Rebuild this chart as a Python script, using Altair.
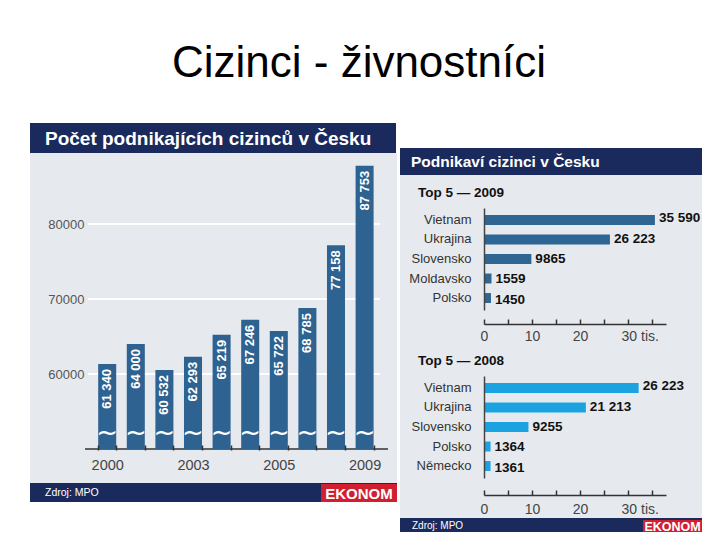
import json
import altair as alt
import pandas as pd

# ---------------- data ----------------
years = ["2000", "2001", "2002", "2003", "2004", "2005", "2006", "2007", "2008", "2009"]
counts = [61340, 64000, 60532, 62293, 65219, 67246, 65722, 68785, 77158, 87753]
year_tick_labels = ["2000", "", "", "2003", "", "", "2005", "", "", "2009"]
left_gridvals = [60000, 70000, 80000]

c2009 = ["Vietnam", "Ukrajina", "Slovensko", "Moldavsko", "Polsko"]
v2009 = [35590, 26223, 9865, 1559, 1450]
l2009 = ["35 590", "26 223", "9865", "1559", "1450"]

c2008 = ["Vietnam", "Ukrajina", "Slovensko", "Polsko", "Německo"]
# bar lengths as drawn in the picture (the Vietnam bar is drawn longer than its label)
v2008 = [32200, 21213, 9255, 1364, 1361]
l2008 = ["26 223", "21 213", "9255", "1364", "1361"]

right_ticks = [0, 5000, 10000, 15000, 20000, 25000, 30000, 35000]
right_labels = [0, 10000, 20000, 30000]

# ---------------- style ----------------
NAVY = "#1b2a5c"
BG = "#e6eaef"
RED = "#d21f30"
BAR_L = "#2e6290"
BAR_R1 = "#2e6592"
BAR_R2 = "#1ba3e1"
NARROW = "Liberation Sans Narrow, Arial Narrow, Liberation Sans, sans-serif"
SANS = "Liberation Sans, Arial, sans-serif"
H, W = 524, 704


def P(v):
    return v - 8


def rect(x1, y1, x2, y2, color):
    return alt.Chart(alt.Data(values=[{}])).mark_rect(color=color).encode(
        x=alt.value(P(x1)), x2=alt.value(P(x2)), y=alt.value(P(y1)), y2=alt.value(P(y2))
    )


def label(text, x, y, **kw):
    return alt.Chart(alt.Data(values=[{"t": text}])).mark_text(**kw).encode(
        x=alt.value(P(x)), y=alt.value(P(y)), text="t:N"
    )


layers = []

# panels
layers += [
    rect(30, 153, 397, 483, BG),
    rect(30, 123, 396, 153, NAVY),
    rect(30, 483, 397, 502, NAVY),
    rect(321, 484, 397, 502, RED),
    rect(400, 175, 702, 518, BG),
    rect(400, 148, 702, 175, NAVY),
    rect(400, 518, 702, 532, NAVY),
    rect(643, 520, 702, 532, RED),
]

# texts
layers += [
    label("Cizinci - živnostníci", 359, 77, font=SANS, fontSize=44, align="center",
          baseline="alphabetic", color="black"),
    label("Počet podnikajících cizinců v Česku", 45, 145, font=NARROW, fontSize=19,
          fontWeight="bold", align="left", baseline="alphabetic", color="white"),
    label("Zdroj: MPO", 45, 493, font=NARROW, fontSize=10.5, align="left",
          baseline="middle", color="white"),
    label("EKONOM", 359, 493.5, font=SANS, fontSize=15, fontWeight="bold", align="center",
          baseline="middle", color="white"),
    label("Podnikaví cizinci v Česku", 411, 162, font=NARROW, fontSize=15.5,
          fontWeight="bold", align="left", baseline="middle", color="white"),
    label("Top 5 — 2009", 418, 193, font=SANS, fontSize=13.5, fontWeight="bold",
          align="left", baseline="middle", color="#111"),
    label("Top 5 — 2008", 418, 361, font=SANS, fontSize=13.5, fontWeight="bold",
          align="left", baseline="middle", color="#111"),
    label("Zdroj: MPO", 412, 525.5, font=NARROW, fontSize=10, align="left",
          baseline="middle", color="white"),
    label("EKONOM", 672.5, 526.5, font=SANS, fontSize=12.5, fontWeight="bold",
          align="center", baseline="middle", color="white"),
]

# ---------------- left chart ----------------
dfL = pd.DataFrame({"year": years, "count": counts,
                    "lbl": [f"{c:,}".replace(",", " ") for c in counts]})
dfG = pd.DataFrame({"g": left_gridvals})
xL = alt.Scale(domain=years, range=[P(92.9), P(378.9)], paddingInner=0.37, paddingOuter=0.185)
yL = alt.Scale(domain=[50000, 90000], range=[P(449), P(149)], nice=False, zero=False)

label_expr_years = f"{json.dumps(year_tick_labels)}[indexof({json.dumps(years)}, datum.value)]"

grid = alt.Chart(dfG).mark_rule(color="white", strokeWidth=2).encode(
    y=alt.Y("g:Q", scale=yL, axis=alt.Axis(
        orient="left", offset=-P(85), values=left_gridvals, domain=False, ticks=False,
        tickSize=0, labelPadding=1, format="d", labelFont=NARROW, labelFontSize=13,
        labelColor="#555", grid=False, title=None, zindex=2)),
    x=alt.value(P(88)), x2=alt.value(P(380)),
)
baseline = alt.Chart(alt.Data(values=[{}])).mark_rule(color="#333", strokeWidth=1.5).encode(
    y=alt.datum(50000, scale=yL, axis=None), x=alt.value(P(85)), x2=alt.value(P(388))
)
barsL = alt.Chart(dfL).mark_bar(color=BAR_L).encode(
    x=alt.X("year:N", scale=xL, sort=None, axis=alt.Axis(
        orient="top", offset=-P(450), labels=False, domain=False, ticks=True, tickSize=5,
        tickColor="#333", tickWidth=1.5, tickBand="extent", title=None, grid=False,
        zindex=2)),
    y=alt.Y("count:Q", scale=yL, axis=None),
    y2=alt.datum(50000),
)
wave = alt.Chart(dfL).mark_text(text="~", color="white", fontSize=26, font="DejaVu Sans",
                                baseline="middle", align="center").encode(
    x=alt.X("year:N", scale=xL, sort=None, axis=None),
    y=alt.datum(52200, scale=yL, axis=None),
)
valsL = alt.Chart(dfL).mark_text(angle=270, align="right", baseline="middle", dx=-5,
                                 color="white", font=NARROW, fontSize=13,
                                 fontWeight="bold").encode(
    x=alt.X("year:N", scale=xL, sort=None, axis=alt.Axis(
        orient="bottom", offset=P(450) - H, domain=False, ticks=False, tickSize=0,
        labelPadding=8, labelExpr=label_expr_years, labelAngle=0, labelFont=NARROW,
        labelFontSize=14.5, labelColor="#444", labelOverlap=False, title=None, grid=False,
        zindex=2)),
    y=alt.Y("count:Q", scale=yL, axis=None),
    text="lbl:N",
)
layers += [grid, baseline, barsL, wave, valsL]


# ---------------- right charts ----------------
def right_chart(cats, vals, lbls, color, y_top, y_bot, axis_y, lab_pad):
    df = pd.DataFrame({"c": cats, "v": vals, "l": lbls})
    xs = alt.Scale(domain=[0, 37900], range=[P(484), P(666)], nice=False, zero=True)
    ys = alt.Scale(domain=cats, range=[P(y_top), P(y_bot)], paddingInner=0.49,
                   paddingOuter=0.36)
    bars = alt.Chart(df).mark_bar(color=color).encode(
        y=alt.Y("c:N", scale=ys, sort=None, axis=alt.Axis(
            orient="left", offset=-P(484), domain=True, domainColor="#444",
            domainWidth=1.5, ticks=False, tickSize=0, labelPadding=13, labelFont=NARROW,
            labelFontSize=13, labelColor="#333", title=None, grid=False, zindex=2)),
        x=alt.X("v:Q", scale=xs, axis=alt.Axis(
            orient="top", offset=-P(axis_y), values=right_ticks, labels=False,
            domain=True, domainColor="#333", domainWidth=1.5, ticks=True, tickSize=5,
            tickColor="#333", tickWidth=1.5, title=None, grid=False, zindex=2)),
    )
    txt = alt.Chart(df).mark_text(align="left", baseline="middle", dx=4, font=SANS,
                                  fontSize=13.5, fontWeight="bold", color="#111").encode(
        y=alt.Y("c:N", scale=ys, sort=None, axis=None),
        x=alt.X("v:Q", scale=xs, axis=alt.Axis(
            orient="bottom", offset=P(axis_y) - H, values=right_labels, domain=False,
            ticks=False, tickSize=0, labelPadding=lab_pad,
            labelExpr="datum.value == 30000 ? '30 tis.' : format(datum.value / 1000, 'd')",
            labelAlign={"condition": {"test": "datum.value == 30000", "value": "left"},
                        "value": "center"},
            labelOffset={"condition": {"test": "datum.value == 30000", "value": -7},
                         "value": 0},
            labelFont=SANS, labelFontSize=14, labelColor="#444", labelOverlap=False,
            title=None, grid=False, zindex=2)),
        text="l:N",
    )
    return [bars, txt]


layers += right_chart(c2009, v2009, l2009, BAR_R1, 208, 310, 324, 5)
layers += right_chart(c2008, v2008, l2008, BAR_R2, 376, 478, 495, 7)

chart = alt.layer(*layers).resolve_scale(
    x="independent", y="independent"
).resolve_axis(
    x="independent", y="independent"
).properties(
    width=W, height=H, padding=0, autosize=alt.AutoSizeParams(type="none"),
    background="white",
).configure_view(stroke=None)

chart.save("out.html", embed_options={"renderer": "svg", "actions": False})
